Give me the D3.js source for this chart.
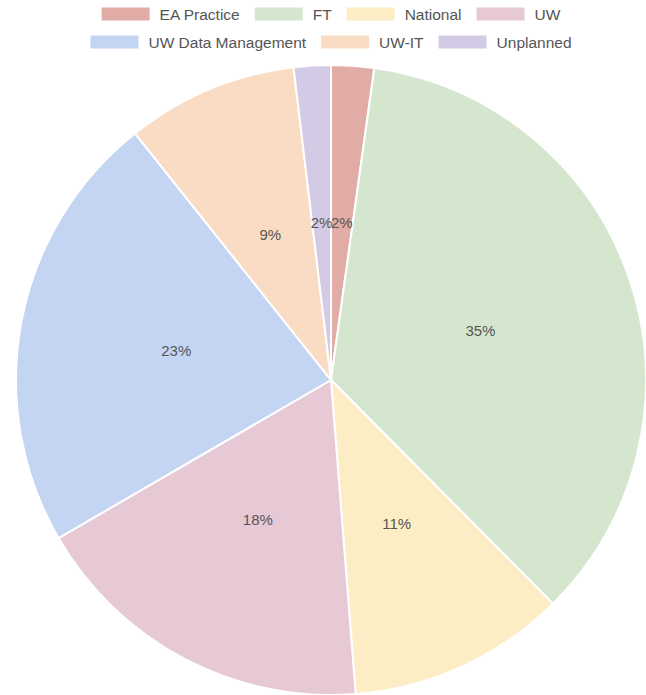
<!DOCTYPE html>
<html>
<head>
<meta charset="utf-8">
<script src="https://cdn.jsdelivr.net/npm/d3@7"></script>
<style>
  html, body { margin: 0; padding: 0; background: #fff; }
  svg { display: block; }
</style>
</head>
<body>
<svg id="chart" width="646" height="695"></svg>
<script>
const categories = ["EA Practice", "FT", "National", "UW", "UW Data Management", "UW-IT", "Unplanned"];
const values = [2.2, 35.4, 11.2, 17.9, 22.7, 8.8, 1.9];
const colors = ["#e1aca5", "#d5e6cf", "#fdedc5", "#e7c9d6", "#c3d5f3", "#f9dcc3", "#d3cbe5"];
const legendRows = [[0, 1, 2, 3], [4, 5, 6]];

const svg = d3.select("#chart");
const W = 646, H = 695;
const cx = 331, cy = 380, R = 315;
const font = "'Liberation Sans', Arial, Helvetica, sans-serif";

const total = d3.sum(values);
const pie = d3.pie().sort(null).value(d => d)(values);
const arc = d3.arc().innerRadius(0).outerRadius(R);
const labelArc = d3.arc().innerRadius(R / 2).outerRadius(R / 2);

const g = svg.append("g").attr("transform", `translate(${cx},${cy})`);
g.selectAll("path.slice").data(pie).enter().append("path")
  .attr("class", "slice")
  .attr("d", arc)
  .attr("fill", (d, i) => colors[i])
  .attr("stroke", "#fff")
  .attr("stroke-width", 2);

g.selectAll("text.lbl").data(pie).enter().append("text")
  .attr("class", "lbl")
  .attr("transform", d => `translate(${labelArc.centroid(d)})`)
  .attr("text-anchor", "middle")
  .attr("dominant-baseline", "central")
  .attr("font-family", font)
  .attr("font-size", 15)
  .attr("fill", "#555")
  .text(d => Math.round(d.value / total * 100) + "%");

// Legend
const boxW = 48, boxH = 13, boxGap = 10, itemGap = 15;
const rowY = [14, 42];
legendRows.forEach((row, ri) => {
  const lg = svg.append("g");
  let x = 0;
  row.forEach(i => {
    const item = lg.append("g").attr("transform", `translate(${x},0)`);
    item.append("rect")
      .attr("x", 0).attr("y", rowY[ri] - boxH / 2)
      .attr("width", boxW).attr("height", boxH)
      .attr("fill", colors[i]);
    const t = item.append("text")
      .attr("x", boxW + boxGap).attr("y", rowY[ri])
      .attr("dominant-baseline", "central")
      .attr("font-family", font)
      .attr("font-size", 15.5)
      .attr("fill", "#555")
      .text(categories[i]);
    const tw = t.node().getComputedTextLength();
    x += boxW + boxGap + tw + itemGap;
  });
  const rowWidth = x - itemGap;
  lg.attr("transform", `translate(${cx - rowWidth / 2},0)`);
});
</script>
</body>
</html>
